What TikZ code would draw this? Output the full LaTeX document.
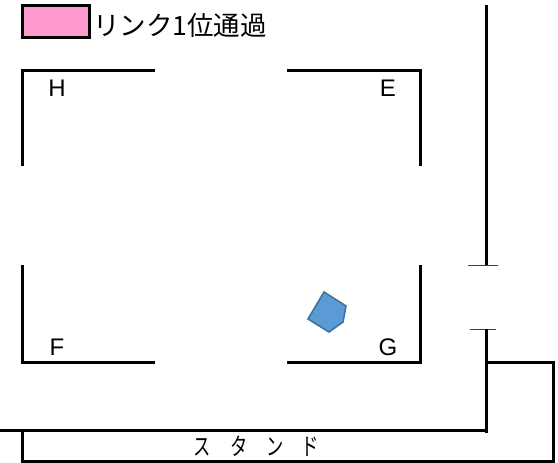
\documentclass[tikz,border=0pt]{standalone}
\usepackage{fontspec}
\setmainfont{Liberation Sans}
\newfontfamily\jpfont{Noto Sans CJK JP}
\definecolor{linkpink}{RGB}{255,153,204}
\definecolor{carblue}{RGB}{91,155,213}
\definecolor{carline}{RGB}{65,113,156}
\tikzset{
  wall/.style={line width=3pt, line cap=butt},
  gate/.style={line width=1pt, black!75},
  corner/.style={font=\fontsize{24}{24}\selectfont, inner sep=0pt},
}
\begin{document}
\begin{tikzpicture}[x=1pt, y=-1pt]
  \useasboundingbox (0, 0) rectangle (558, 463);

  % legend
  \draw[wall, fill=linkpink] (22, 5.5) rectangle (89, 37.5);
  \node[anchor=west, inner sep=0pt] (legend) at (93, 25) {\jpfont\fontsize{26.5}{26.5}\selectfont リンク1位通過};

  % corners
  \draw[wall] (155, 70) -- (22, 70) -- (22, 166);
  \draw[wall] (287, 70) -- (420, 70) -- (420, 166);
  \draw[wall] (22, 265) -- (22, 362) -- (155, 362);
  \draw[wall] (287, 362) -- (420, 362) -- (420, 265);

  \node[corner] (cornerH) at (57, 88) {H};
  \node[corner] (cornerE) at (388, 88) {E};
  \node[corner] (cornerF) at (57, 347) {F};
  \node[corner] (cornerG) at (388, 347) {G};

  % right side and stand
  \draw[wall] (486, 5) -- (486, 265);
  \draw[gate] (468, 265) -- (498, 265);
  \draw[gate] (470, 329) -- (496, 329);
  \draw[wall] (486, 329) -- (486, 433);
  \draw[wall] (0, 430.5) -- (486, 430.5);
  \draw[wall] (486, 362.5) -- (553, 362.5) -- (553, 461.5) -- (22, 461.5) -- (22, 430);
  \node[inner sep=0pt] (stand) at (256, 446) {\jpfont\fontsize{24}{24}\selectfont\scalebox{.72}[1]{ス}\hspace{20pt}\scalebox{.72}[1]{タ}\hspace{18pt}\scalebox{.72}[1]{ン}\hspace{18pt}\scalebox{.72}[1]{ド}};

  % car
  \draw[line width=1.6pt, draw=carline, fill=carblue] (324, 292) -- (346, 306) -- (343, 322) -- (329, 332) -- (308, 319) -- cycle;
\end{tikzpicture}
\end{document}
